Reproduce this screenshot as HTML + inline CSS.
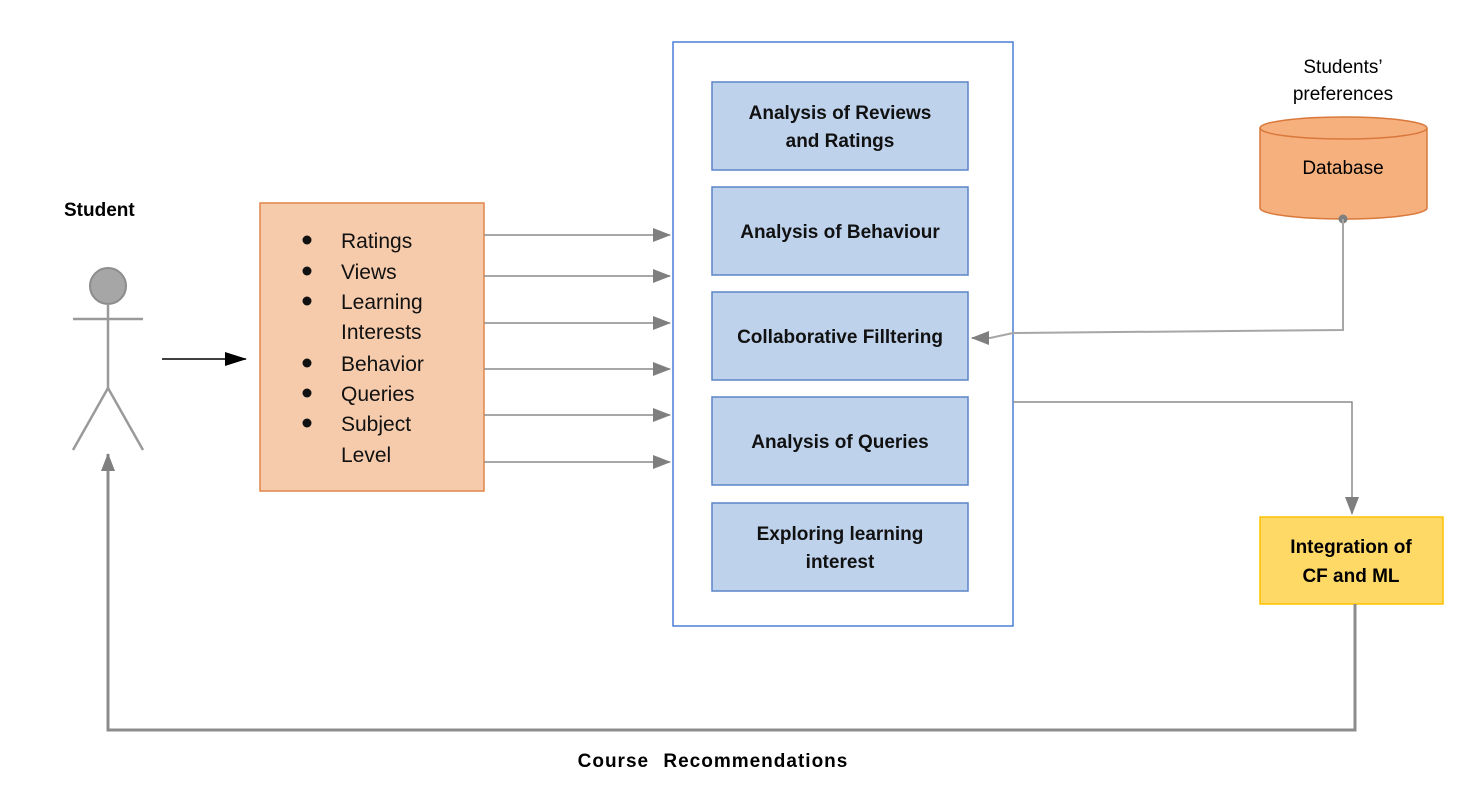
<!DOCTYPE html>
<html><head><style>
body{margin:0;background:#fff;}
svg text{font-family:"Liberation Sans",sans-serif;}
</style></head><body>
<svg width="1480" height="797" viewBox="0 0 1480 797" xmlns="http://www.w3.org/2000/svg">
<defs>
<marker id="gb" markerWidth="18" markerHeight="14" refX="17" refY="7" orient="auto" markerUnits="userSpaceOnUse" viewBox="0 0 18 14"><path d="M0,0 L18,7 L0,14 z" fill="#7f7f7f"/></marker>
<marker id="k" markerWidth="22" markerHeight="14" refX="21" refY="7" orient="auto" markerUnits="userSpaceOnUse" viewBox="0 0 22 14"><path d="M0,0 L22,7 L0,14 z" fill="#000"/></marker>
</defs>
<text x="64" y="216" font-size="19" font-weight="bold">Student</text>
<circle cx="108" cy="286" r="18" fill="#a6a6a6" stroke="#8c8c8c" stroke-width="2"/>
<g stroke="#9a9a9a" stroke-width="2.5" fill="none">
<line x1="73" y1="319" x2="143" y2="319"/>
<line x1="108" y1="304" x2="108" y2="388"/>
<polyline points="73,450 108,388 143,450"/>
</g>
<line x1="162" y1="359" x2="246" y2="359" stroke="#000" stroke-width="1.5" marker-end="url(#k)"/>
<rect x="260" y="203" width="224" height="288" fill="#f6cbac" stroke="#e0864a" stroke-width="1.5"/>
<g font-size="21" fill="#111">
<circle cx="307" cy="240" r="4.5"/><text x="341" y="248">Ratings</text>
<circle cx="307" cy="271" r="4.5"/><text x="341" y="279">Views</text>
<circle cx="307" cy="301" r="4.5"/><text x="341" y="309">Learning</text>
<text x="341" y="339">Interests</text>
<circle cx="307" cy="363" r="4.5"/><text x="341" y="371">Behavior</text>
<circle cx="307" cy="393" r="4.5"/><text x="341" y="401">Queries</text>
<circle cx="307" cy="423" r="4.5"/><text x="341" y="431">Subject</text>
<text x="341" y="462">Level</text>
</g>
<g stroke="#8c8c8c" stroke-width="1.5">
<line x1="484" y1="235" x2="670" y2="235" marker-end="url(#gb)"/>
<line x1="484" y1="276" x2="670" y2="276" marker-end="url(#gb)"/>
<line x1="484" y1="323" x2="670" y2="323" marker-end="url(#gb)"/>
<line x1="484" y1="369" x2="670" y2="369" marker-end="url(#gb)"/>
<line x1="484" y1="415" x2="670" y2="415" marker-end="url(#gb)"/>
<line x1="484" y1="462" x2="670" y2="462" marker-end="url(#gb)"/>
</g>
<rect x="673" y="42" width="340" height="584" fill="#fff" stroke="#4a7fd6" stroke-width="1.5"/>
<g fill="#bed2ec" stroke="#5b84c6" stroke-width="1.5">
<rect x="712" y="82" width="256" height="88"/>
<rect x="712" y="187" width="256" height="88"/>
<rect x="712" y="292" width="256" height="88"/>
<rect x="712" y="397" width="256" height="88"/>
<rect x="712" y="503" width="256" height="88"/>
</g>
<g font-size="19" font-weight="bold" text-anchor="middle" fill="#111">
<text x="840" y="119">Analysis of Reviews</text>
<text x="840" y="147">and Ratings</text>
<text x="840" y="238">Analysis of Behaviour</text>
<text x="840" y="343">Collaborative Filltering</text>
<text x="840" y="448">Analysis of Queries</text>
<text x="840" y="540">Exploring learning</text>
<text x="840" y="568">interest</text>
</g>
<text x="1343" y="73" font-size="19" text-anchor="middle">Students’</text>
<text x="1343" y="100" font-size="19" text-anchor="middle">preferences</text>
<path d="M1260,128 L1260,208 A83.5,11 0 0 0 1427,208 L1427,128 A83.5,11 0 0 0 1260,128 Z" fill="#f5b07e" stroke="#d9783a" stroke-width="1.5"/>
<path d="M1260,128 A83.5,11 0 0 0 1427,128" fill="none" stroke="#d9783a" stroke-width="1.5"/>
<text x="1343" y="174" font-size="19" text-anchor="middle">Database</text>
<circle cx="1343" cy="219" r="4.5" fill="#7f7f7f"/>
<polyline points="1343,219 1343,330 1013,333 990,338 972,338" fill="none" stroke="#a6a6a6" stroke-width="2" marker-end="url(#gb)"/>
<polyline points="1013,402 1352,402 1352,514" fill="none" stroke="#8c8c8c" stroke-width="1.5" marker-end="url(#gb)"/>
<rect x="1260" y="517" width="183" height="87" fill="#ffd966" stroke="#ffc000" stroke-width="1.5"/>
<text x="1351" y="553" font-size="19" font-weight="bold" text-anchor="middle">Integration of</text>
<text x="1351" y="582" font-size="19" font-weight="bold" text-anchor="middle">CF and ML</text>
<polyline points="1355,604 1355,730 108,730 108,454" fill="none" stroke="#8c8c8c" stroke-width="3" marker-end="url(#gb)"/>
<text x="713" y="767" font-size="19" font-weight="bold" text-anchor="middle" letter-spacing="1" word-spacing="8">Course Recommendations</text>
</svg>
</body></html>
